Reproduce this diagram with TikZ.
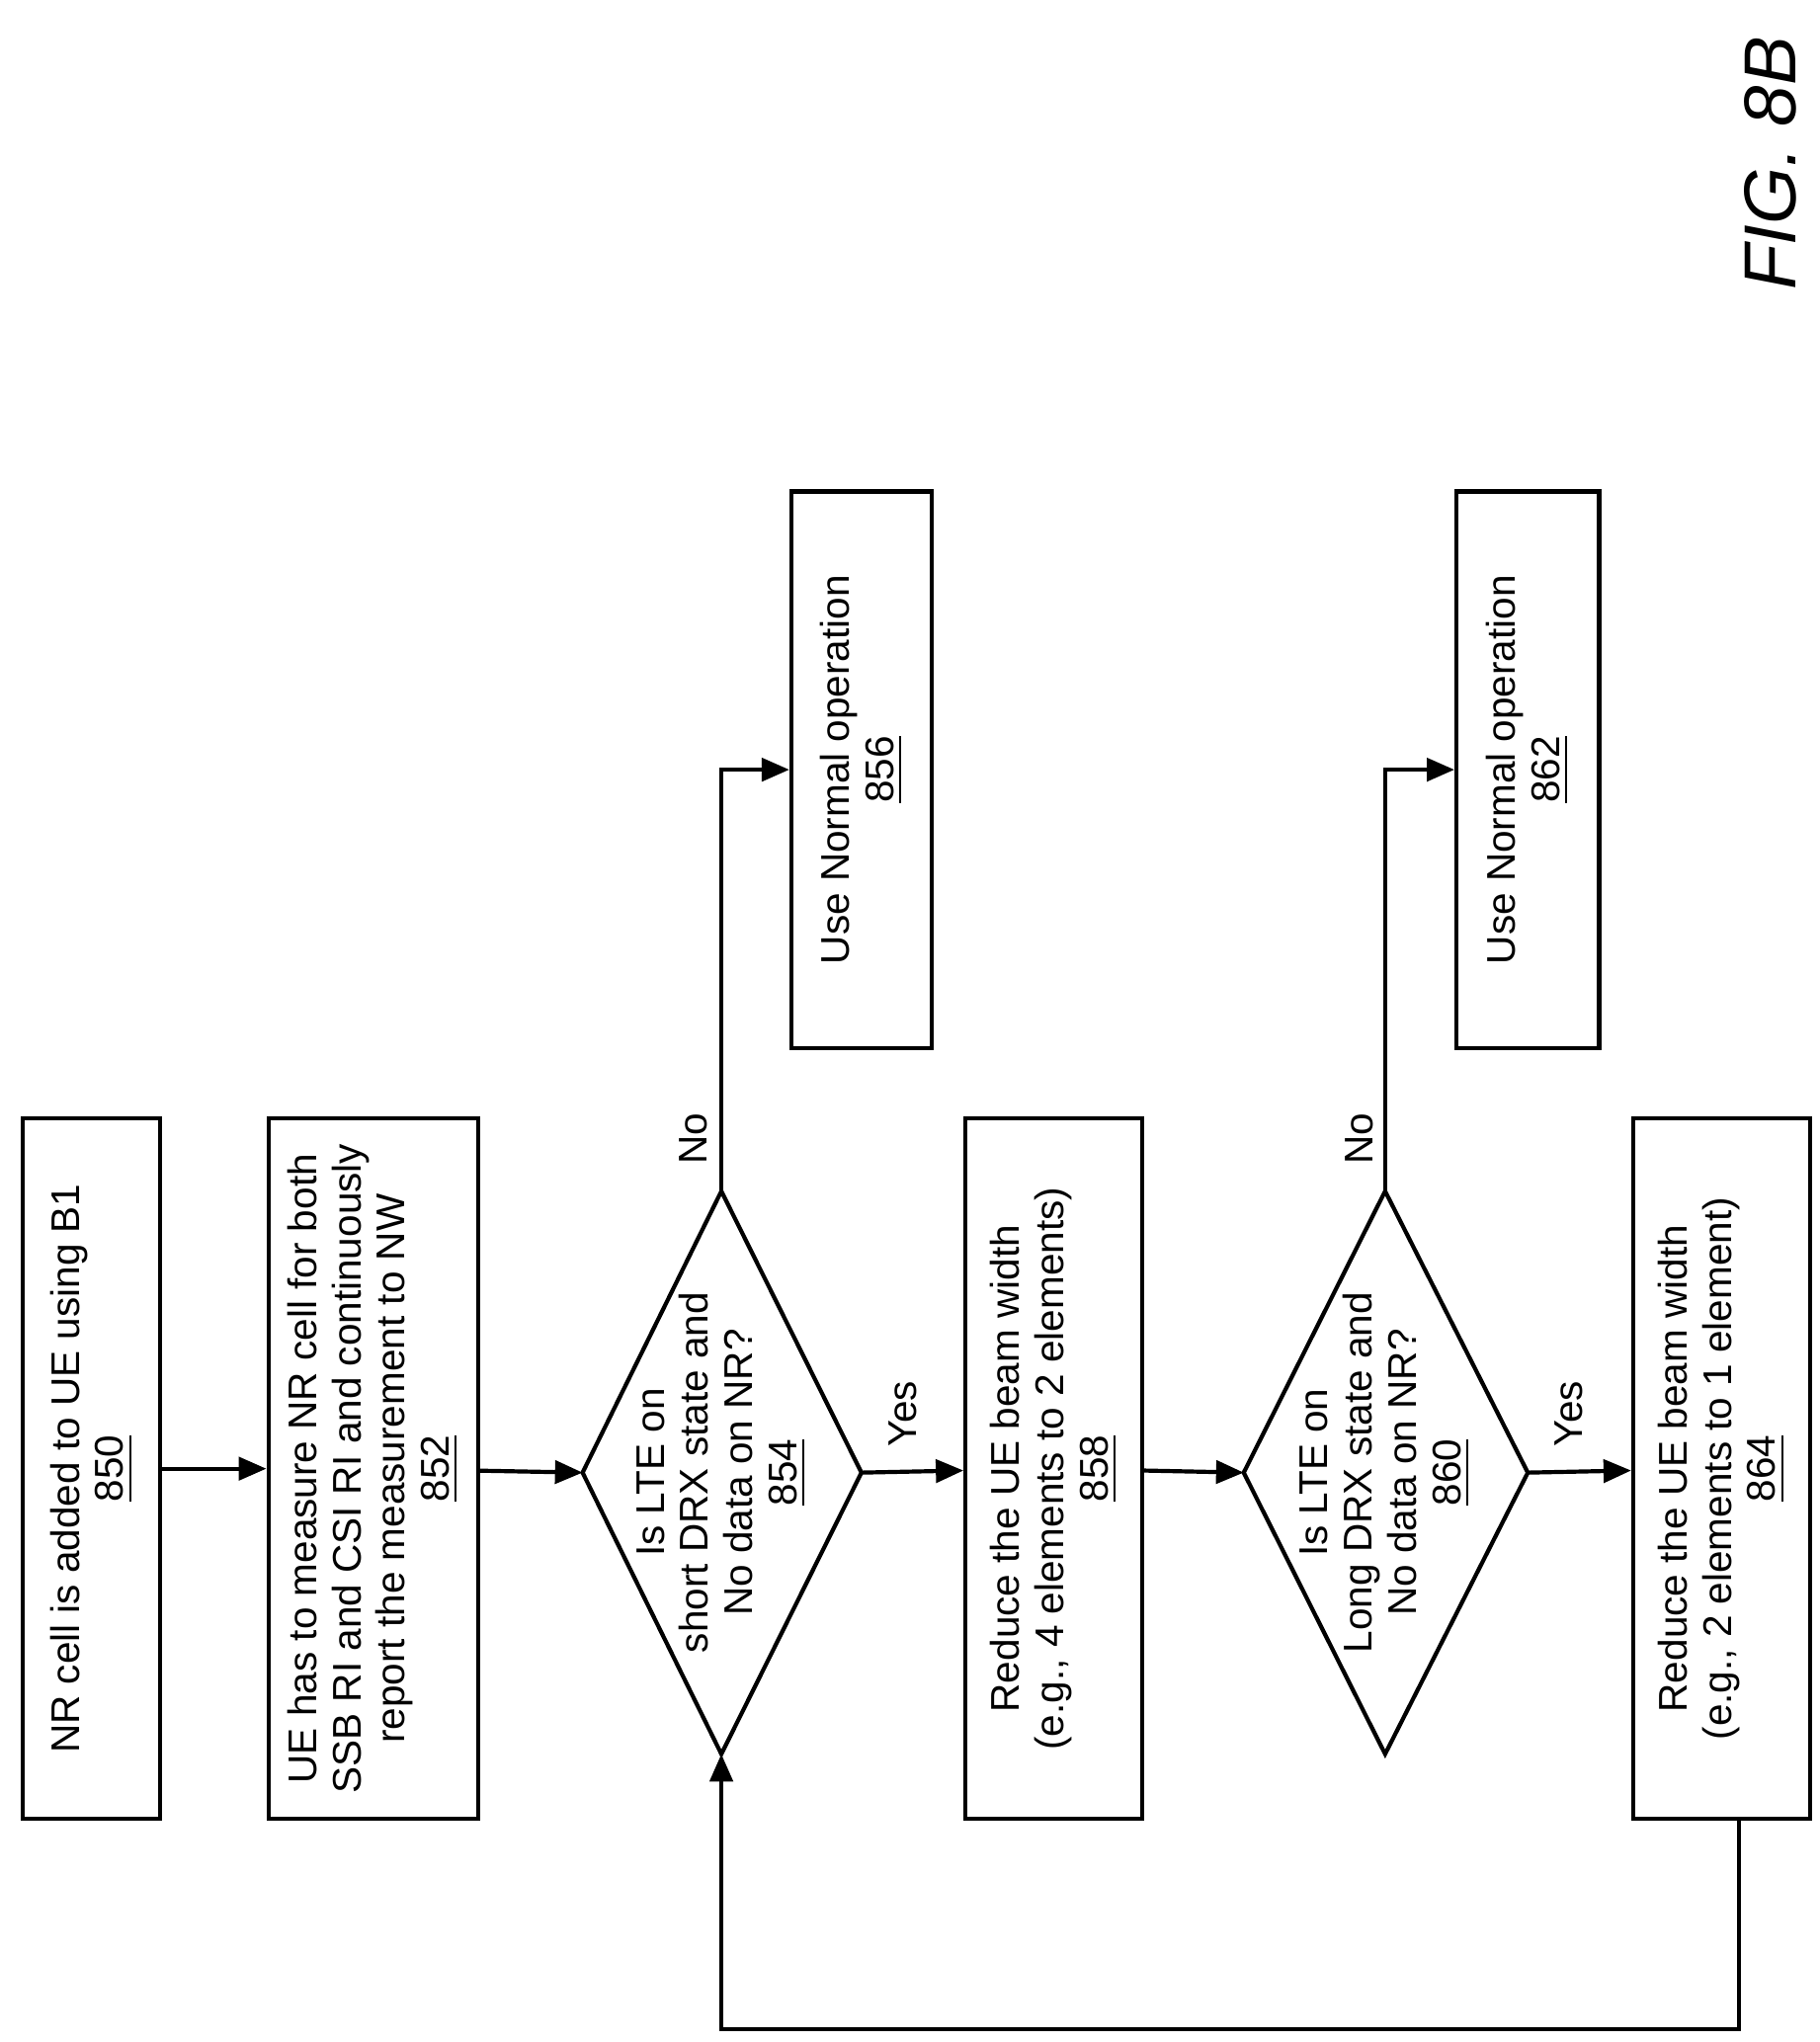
\documentclass[tikz,border=0pt]{standalone}
\usepackage{fontspec}
\setmainfont{Liberation Sans}
\usetikzlibrary{arrows.meta}
\begin{document}
\begin{tikzpicture}[x=0.1mm,y=-0.1mm,
  box/.style={draw,line width=0.9pt,rotate=90,align=center,inner sep=2pt,font=\fontsize{8.7}{9.6}\selectfont},
  lbl/.style={rotate=90,align=center,font=\fontsize{8.7}{9.6}\selectfont},
  arr/.style={line width=0.9pt,-{Triangle[length=6pt,width=5pt]}},
  ln/.style={line width=0.9pt}]
\useasboundingbox (0,0) rectangle (1390,1560);
\node[box,minimum width=5.35cm,minimum height=1.05cm] (b850) at (70,1122) {NR cell is added to UE using B1\\\underline{850}};
\node[box,minimum width=5.35cm,minimum height=1.6cm] (b852) at (285,1122) {UE has to measure NR cell for both\\SSB RI and CSI RI and continuously\\report the measurement to NW\\\underline{852}};
% diamond 854
\coordinate (d1l) at (445,1125); \coordinate (d1r) at (658,1125);
\coordinate (d1t) at (551,910); \coordinate (d1b) at (551,1340);
\draw[ln] (d1l)--(d1t)--(d1r)--(d1b)--cycle;
\node[lbl] (t854) at (551,1125) {Is LTE on\\short DRX state and\\No data on NR?\\\underline{854}};
\node[box,minimum width=4.25cm,minimum height=1.07cm] (b856) at (658,588) {Use Normal operation\\\underline{856}};
\node[box,minimum width=5.35cm,minimum height=1.35cm] (b858) at (805,1122) {Reduce the UE beam width\\(e.g., 4 elements to 2 elements)\\\underline{858}};
% diamond 860
\coordinate (d2l) at (950,1125); \coordinate (d2r) at (1167,1125);
\coordinate (d2t) at (1058,910); \coordinate (d2b) at (1058,1340);
\draw[ln] (d2l)--(d2t)--(d2r)--(d2b)--cycle;
\node[lbl] (t860) at (1058,1125) {Is LTE on\\Long DRX state and\\No data on NR?\\\underline{860}};
\node[box,minimum width=4.25cm,minimum height=1.09cm] (b862) at (1167,588) {Use Normal operation\\\underline{862}};
\node[box,minimum width=5.35cm,minimum height=1.35cm] (b864) at (1315,1122) {Reduce the UE beam width\\(e.g., 2 elements to 1 element)\\\underline{864}};
\node[rotate=90,font=\fontsize{16}{19}\selectfont\itshape] (fig) at (1352,125) {FIG. 8B};
% connectors
\draw[arr] (b850) -- (b852);
\draw[arr] (b852) -- (d1l);
\draw[arr] (d1r) -- (b858);
\node[lbl] (yes1) at (690,1080) {Yes};
\draw[arr] (b858) -- (d2l);
\draw[arr] (d2r) -- (b864);
\node[lbl] (yes2) at (1198,1080) {Yes};
\coordinate (c1) at (551,588); \coordinate (c2) at (1058,588);
\draw[arr] (d1t) -- (c1) -- (b856);
\node[lbl] (no1) at (530,870) {No};
\draw[arr] (d2t) -- (c2) -- (b862);
\node[lbl] (no2) at (1038,870) {No};
\coordinate (fb0) at (1328,1390); \coordinate (fb1) at (1328,1550); \coordinate (fb2) at (551,1550);
\draw[arr] (fb0) -- (fb1) -- (fb2) -- (d1b);
\end{tikzpicture}
\end{document}
